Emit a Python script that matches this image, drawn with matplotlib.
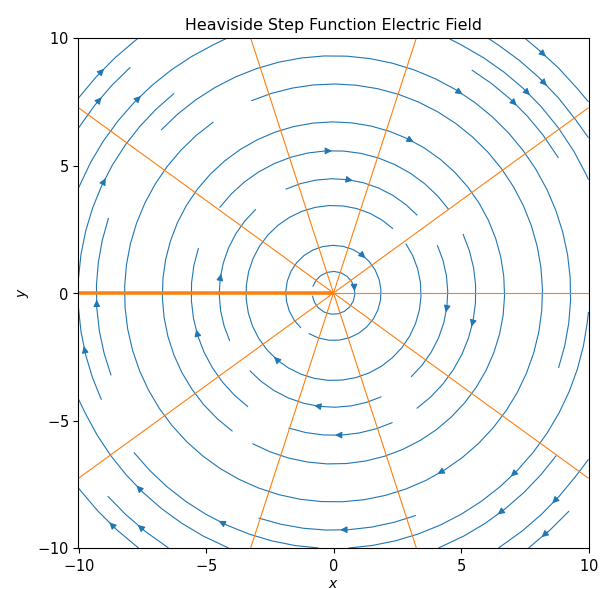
import numpy as np
import matplotlib
matplotlib.use('Agg')
import matplotlib.pyplot as plt
from matplotlib.ticker import FuncFormatter

# grid for the field
xs = np.linspace(-10, 10, 200)
ys = np.linspace(-10, 10, 200)
X, Y = np.meshgrid(xs, ys)
R2 = X**2 + Y**2 + 1e-9

# circulating field (clockwise)
Ex = Y / R2
Ey = -X / R2

# potential (angle) for equipotential rays
Phi = np.arctan2(Y, X)
phi_levels = np.linspace(-np.pi, np.pi, 11)

ticks = [-10, -5, 0, 5, 10]

fig = plt.figure(figsize=(6.11, 5.89), dpi=100)
ax = fig.add_axes([78/611, 41/589, 511/611, 510/589])
ax.streamplot(X, Y, Ex, Ey, color='C0', linewidth=0.8, density=0.6)
ax.contour(X, Y, Phi, levels=phi_levels, colors='C1', linewidths=0.8,
           linestyles='solid')
ax.set_xlim(-10, 10)
ax.set_ylim(-10, 10)
ax.set_aspect('equal')
ax.set_xticks(ticks)
ax.set_yticks(ticks)
fmt = FuncFormatter(lambda v, p: r'$\mathdefault{%d}$' % v)
ax.xaxis.set_major_formatter(fmt)
ax.yaxis.set_major_formatter(fmt)
ax.tick_params(labelsize=10.5)
ax.set_title('Heaviside Step Function Electric Field', fontsize=11.4)
ax.set_xlabel('$x$', labelpad=2)
ax.set_ylabel('$y$')
fig.savefig('out.png', dpi=100)
